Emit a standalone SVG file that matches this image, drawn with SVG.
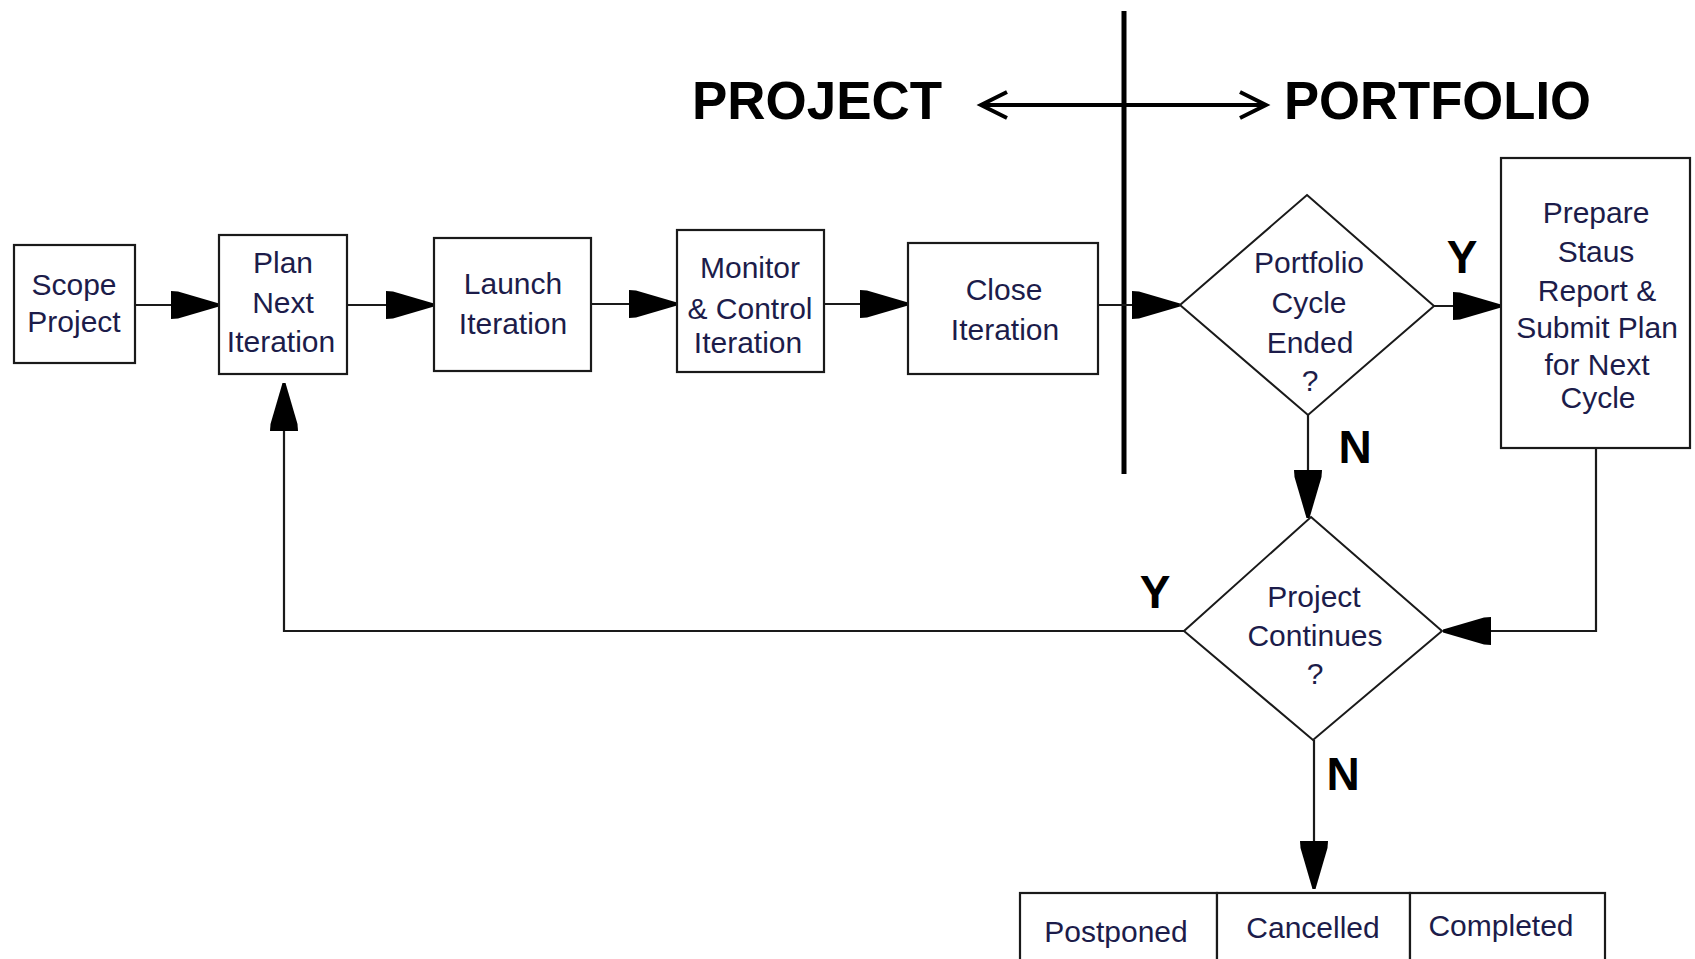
<svg xmlns="http://www.w3.org/2000/svg" width="1695" height="959" viewBox="0 0 1695 959">
<style>
.box{fill:#fff;stroke:#1a1a1a;stroke-width:2.2}
.dia{fill:#fff;stroke:#1a1a1a;stroke-width:2}
.t{font-family:"Liberation Sans",Arial,sans-serif;font-size:30px;fill:#1c1c4a;text-anchor:middle}
.lbl{font-family:"Liberation Sans",Arial,sans-serif;font-size:46px;font-weight:bold;fill:#000;text-anchor:middle}
.hdr{font-family:"Liberation Sans",Arial,sans-serif;font-size:53px;font-weight:bold;fill:#000}
.c{fill:none;stroke:#1a1a1a;stroke-width:2.2}
</style>
<defs>
<marker id="ah" markerUnits="userSpaceOnUse" markerWidth="50" markerHeight="30" refX="48" refY="15" orient="auto" viewBox="0 0 50 30">
<path d="M0,1 L7,1.5 L48,13.5 L48,16.5 L7,28.5 L0,29 Z" fill="#000"/>
</marker>
</defs>
<rect width="1695" height="959" fill="#fff"/>

<g id="header">
<text class="hdr" x="692" y="119" textLength="250" lengthAdjust="spacingAndGlyphs">PROJECT</text>
<text class="hdr" x="1284" y="119" textLength="307" lengthAdjust="spacingAndGlyphs">PORTFOLIO</text>
<path d="M981,105 H1266" fill="none" stroke="#000" stroke-width="4"/>
<path d="M1007,92 L981,105 L1007,118" fill="none" stroke="#000" stroke-width="4"/>
<path d="M1240,92 L1266,105 L1240,118" fill="none" stroke="#000" stroke-width="4"/>
<path d="M1124,11 V474" fill="none" stroke="#000" stroke-width="5"/>
</g>

<g id="connectors">
<path class="c" d="M135,305 H219" marker-end="url(#ah)"/>
<path class="c" d="M347,305 H434" marker-end="url(#ah)"/>
<path class="c" d="M591,304 H677" marker-end="url(#ah)"/>
<path class="c" d="M824,304 H908" marker-end="url(#ah)"/>
<path class="c" d="M1098,305 H1180" marker-end="url(#ah)"/>
<path class="c" d="M1434,306 H1501" marker-end="url(#ah)"/>
<path class="c" d="M1308,415 V518" marker-end="url(#ah)"/>
<path class="c" d="M1596,448 V631 H1443" marker-end="url(#ah)"/>
<path class="c" d="M1184,631 H284 V383" marker-end="url(#ah)"/>
<path class="c" d="M1314,740 V889" marker-end="url(#ah)"/>
<text class="lbl" x="1462" y="273">Y</text>
<text class="lbl" x="1355" y="463">N</text>
<text class="lbl" x="1155" y="608">Y</text>
<text class="lbl" x="1343" y="790">N</text>
</g>

<g id="scope">
<rect class="box" x="14" y="245" width="121" height="118"/>
<text class="t" x="74" y="295">Scope</text>
<text class="t" x="74" y="332">Project</text>
</g>
<g id="plan">
<rect class="box" x="219" y="235" width="128" height="139"/>
<text class="t" x="283" y="273">Plan</text>
<text class="t" x="283" y="313">Next</text>
<text class="t" x="281" y="352">Iteration</text>
</g>
<g id="launch">
<rect class="box" x="434" y="238" width="157" height="133"/>
<text class="t" x="513" y="294">Launch</text>
<text class="t" x="513" y="334">Iteration</text>
</g>
<g id="monitor">
<rect class="box" x="677" y="230" width="147" height="142"/>
<text class="t" x="750" y="278">Monitor</text>
<text class="t" x="750" y="319">&amp; Control</text>
<text class="t" x="748" y="353">Iteration</text>
</g>
<g id="close">
<rect class="box" x="908" y="243" width="190" height="131"/>
<text class="t" x="1004" y="300">Close</text>
<text class="t" x="1005" y="340">Iteration</text>
</g>
<g id="portfolio-cycle">
<polygon class="dia" points="1307,195 1434,306 1308,415 1180,305"/>
<text class="t" x="1309" y="273">Portfolio</text>
<text class="t" x="1309" y="313">Cycle</text>
<text class="t" x="1310" y="353">Ended</text>
<text class="t" x="1310" y="391">?</text>
</g>
<g id="prepare">
<rect class="box" x="1501" y="158" width="189" height="290"/>
<text class="t" x="1596" y="223">Prepare</text>
<text class="t" x="1596" y="262">Staus</text>
<text class="t" x="1597" y="301">Report &amp;</text>
<text class="t" x="1597" y="338">Submit Plan</text>
<text class="t" x="1597" y="375">for Next</text>
<text class="t" x="1598" y="408">Cycle</text>
</g>
<g id="project-continues">
<polygon class="dia" points="1311,517 1442,631 1313,740 1184,631"/>
<text class="t" x="1314" y="607">Project</text>
<text class="t" x="1315" y="646">Continues</text>
<text class="t" x="1315" y="684">?</text>
</g>
<g id="postponed">
<rect class="box" x="1020" y="893" width="197" height="90"/>
<text class="t" x="1116" y="942">Postponed</text>
</g>
<g id="cancelled">
<rect class="box" x="1217" y="893" width="193" height="90"/>
<text class="t" x="1313" y="938">Cancelled</text>
</g>
<g id="completed">
<rect class="box" x="1410" y="893" width="195" height="90"/>
<text class="t" x="1501" y="936">Completed</text>
</g>
</svg>
